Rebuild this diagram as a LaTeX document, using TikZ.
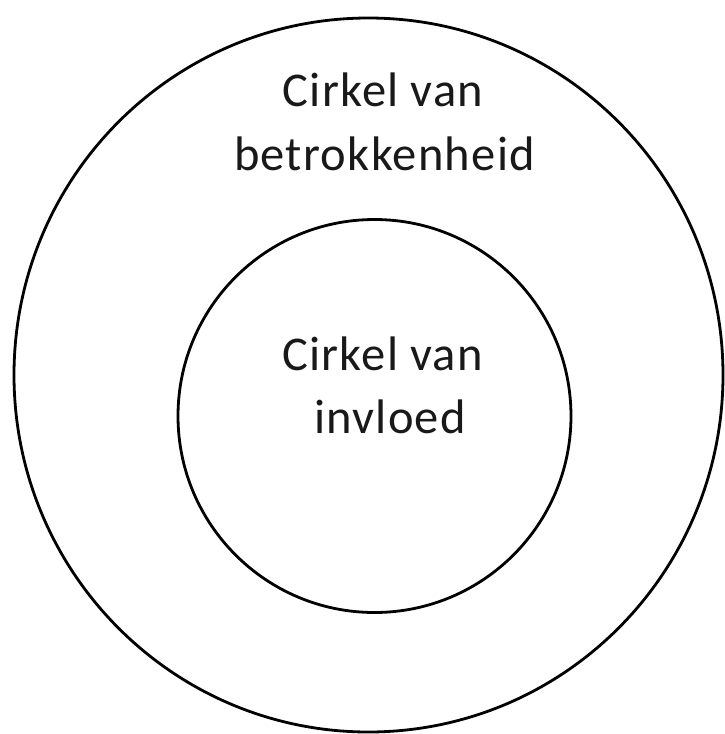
\documentclass[tikz,border=0pt]{standalone}
\usepackage{fontspec}
\setmainfont[LetterSpace=2.6]{Carlito}
\begin{document}
\begin{tikzpicture}[x=1pt,y=-1pt,
  ring/.style={draw=black,line width=2.8pt},
  lbl/.style={align=center,font=\fontsize{48.5}{63}\selectfont,inner sep=0pt,text=black!90}]
\useasboundingbox (0,0) rectangle (725,734);
\draw[ring] (368.5,375) ellipse [x radius=354.5, y radius=357];
\node[ring,circle,minimum size=393pt,inner sep=0pt] (inner) at (374.5,416) {};
\node[lbl,anchor=base] (outerlbl1) at (383,106.5) {Cirkel van};
\node[lbl,anchor=base] (outerlbl2) at (384.5,170) {betrokkenheid};
\node[lbl,anchor=base] (innerlbl1) at (382.5,370) {Cirkel van};
\node[lbl,anchor=base] (innerlbl2) at (390,433) {invloed};
\end{tikzpicture}
\end{document}
